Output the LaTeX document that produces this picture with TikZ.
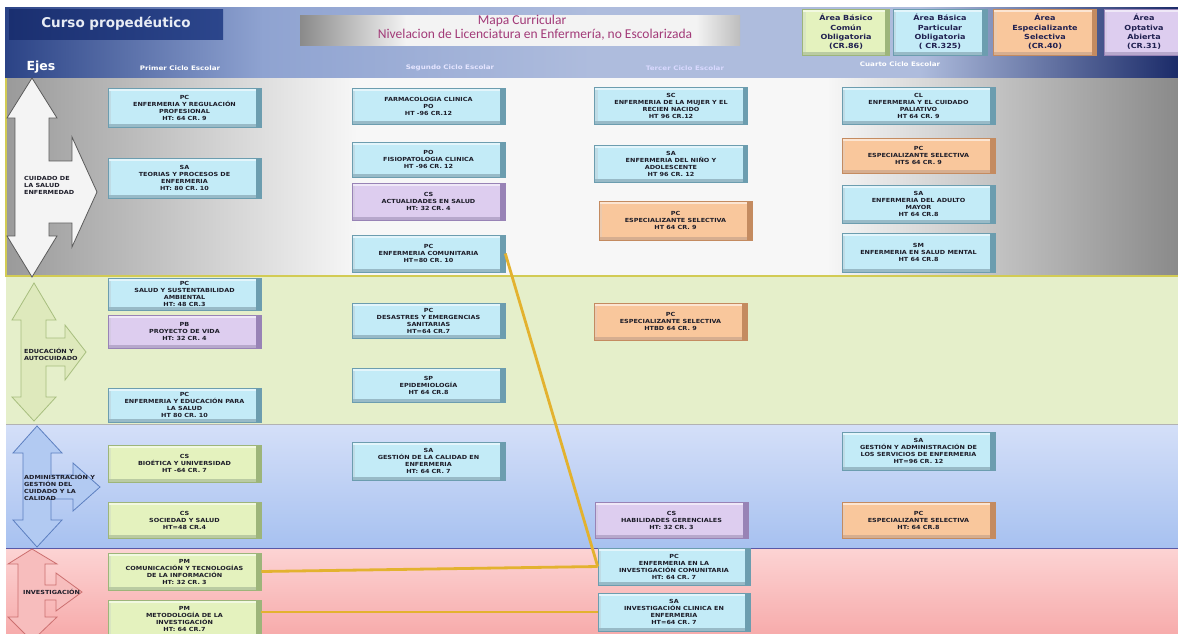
\documentclass[tikz,border=0pt]{standalone}
\usepackage{fontspec}
\newfontfamily\boxfnt{DejaVu Sans}[FakeStretch=1.15]
\newfontfamily\hdfnt{DejaVu Sans}
\newfontfamily\titlefnt{Carlito}
\definecolor{hdA}{HTML}{2B4386}
\definecolor{hdB}{HTML}{8FA3D1}
\definecolor{hdC}{HTML}{AEBCDD}
\definecolor{hdD}{HTML}{1B2B69}
\definecolor{gL}{HTML}{9A9A9A}
\definecolor{gR}{HTML}{8A8A8A}
\definecolor{gW}{HTML}{F7F7F7}
\definecolor{tA}{HTML}{8A8A8A}
\definecolor{tB}{HTML}{F3F3F3}
\definecolor{tC}{HTML}{BDBDBD}
\pgfdeclarehorizontalshading{hdshade}{100bp}{color(0bp)=(hdA); color(25bp)=(hdA); color(36bp)=(hdB); color(50bp)=(hdC); color(64bp)=(hdC); color(75bp)=(hdD); color(100bp)=(hdD)}
\pgfdeclarehorizontalshading{bandshade}{100bp}{color(0bp)=(gL); color(25bp)=(gL); color(40bp)=(gW); color(60bp)=(gW); color(75bp)=(gR); color(100bp)=(gR)}
\pgfdeclarehorizontalshading{titleshade}{100bp}{color(0bp)=(tA); color(25bp)=(tA); color(37bp)=(tB); color(70bp)=(tB); color(75bp)=(tC); color(100bp)=(tC)}
\definecolor{cyF}{HTML}{C3EBF7}
\definecolor{cyE}{HTML}{6C9DAF}
\definecolor{lvF}{HTML}{DDCDEF}
\definecolor{lvE}{HTML}{9883B6}
\definecolor{orF}{HTML}{F9C79C}
\definecolor{orE}{HTML}{C48B60}
\definecolor{grF}{HTML}{E4F2BE}
\definecolor{grE}{HTML}{9DB57A}
\definecolor{boxtxt}{HTML}{1C1C28}
\definecolor{b2F}{HTML}{E5EFCA}
\definecolor{b3T}{HTML}{D4DFF8}
\definecolor{b3B}{HTML}{A7C1F0}
\definecolor{b4T}{HTML}{FCD3D3}
\definecolor{b4B}{HTML}{F7ACAC}
\definecolor{a1F}{HTML}{F4F4F4}
\definecolor{a1E}{HTML}{5A5A5A}
\definecolor{a2F}{HTML}{DEE9BC}
\definecolor{a2E}{HTML}{A7BE7E}
\definecolor{a3F}{HTML}{B2CAF2}
\definecolor{a3E}{HTML}{5C7FC0}
\definecolor{a4F}{HTML}{F7BDBD}
\definecolor{a4E}{HTML}{CC7070}
\definecolor{goldline}{HTML}{E3B22F}
\definecolor{titlecol}{HTML}{A23A78}
\definecolor{legtxt}{HTML}{202050}
\definecolor{cursoL}{HTML}{1A2F70}
\definecolor{cursoR}{HTML}{2C468C}
\definecolor{cursoT}{HTML}{E8ECF4}
\begin{document}
\begin{tikzpicture}[x=1pt,y=-1pt,
  cbox/.style={rectangle, inner sep=0pt, minimum width=153pt, align=center,
    font=\boxfnt\fontsize{5.6}{7}\selectfont\bfseries, text=boxtxt},
  bev/.style 2 args={fill=#1, draw=#2, line width=0.6pt, path picture={
    \fill[#2] ([xshift=-5pt]path picture bounding box.north east) rectangle (path picture bounding box.south east);
    \fill[#2!70!white] (path picture bounding box.south west) rectangle ([yshift=3.5pt,xshift=-5pt]path picture bounding box.south east);
    \fill[white,opacity=0.55] (path picture bounding box.north west) rectangle ([yshift=-3pt,xshift=-5pt]path picture bounding box.north east);
    \fill[#2!45!white,opacity=0.6] ([yshift=-3pt]path picture bounding box.north west) rectangle ([xshift=3pt,yshift=3.5pt]path picture bounding box.south west);
  }},
  cy/.style={cbox, bev={cyF}{cyE}},
  lv/.style={cbox, bev={lvF}{lvE}},
  og/.style={cbox, bev={orF}{orE}},
  gr/.style={cbox, bev={grF}{grE}},
  legend/.style={rectangle, inner sep=0pt, align=center, minimum height=46pt,
    font=\boxfnt\fontsize{7}{9.4}\selectfont\bfseries, text=legtxt},
  axlabel/.style={anchor=west, align=left, inner sep=0pt,
    font=\boxfnt\fontsize{5.6}{7}\selectfont\bfseries, text=boxtxt},
  colhead/.style={inner sep=0pt, font=\boxfnt\fontsize{6.2}{7}\selectfont\bfseries},
  gold/.style={draw=goldline, line width=2.8pt},
  axarrow/.style 2 args={fill=#1, draw=#2, line width=0.8pt, line join=miter}
]
\useasboundingbox (0,0) rectangle (1178,633);
\fill[white] (0,0) rectangle (1178,633);

% ---------- header ----------
\shade[shading=hdshade] (5,7) rectangle (1178,78);
\node[rectangle, inner sep=0pt, minimum width=214pt, minimum height=30pt,
  left color=cursoL, right color=cursoR,
  text=cursoT, font=\hdfnt\bfseries\fontsize{13.5}{15}\selectfont]
  (curso) at (116,24) {Curso propedéutico};
\node[rectangle, inner sep=0pt, minimum width=440pt, minimum height=30pt, shade, shading=titleshade]
  (tbox) at (520,30) {};
\node[inner sep=0pt, text=titlecol, font=\titlefnt\fontsize{13.5}{15}\selectfont] (t1) at (522,21) {Mapa Curricular};
\node[inner sep=0pt, text=titlecol, font=\titlefnt\fontsize{13.5}{15}\selectfont] (t2) at (535,35) {Nivelacion de Licenciatura en Enfermería, no Escolarizada};

\node[legend, minimum width=87pt, bev={grF}{grE}] (lg1) at (846,32) {Área Básico\\Común\\Obligatoria\\(CR.86)};
\node[legend, minimum width=94pt, bev={cyF}{cyE}] (lg2) at (940,32) {Área Básica\\Particular\\Obligatoria\\( CR.325)};
\node[legend, minimum width=103pt, bev={orF}{orE}] (lg3) at (1045,32) {Área\\Especializante\\Selectiva\\(CR.40)};
\node[legend, minimum width=80pt, bev={lvF}{lvE}] (lg4) at (1144,32) {Área\\Optativa\\Abierta\\(CR.31)};

\node[inner sep=0pt, text=white, font=\hdfnt\bfseries\fontsize{12.5}{14}\selectfont] (ejes) at (41,67) {Ejes};
\node[colhead, text=white] (h1) at (180,68) {Primer  Ciclo Escolar};
\node[colhead, text=white!90!blue] (h2) at (450,68) {Segundo Ciclo Escolar};
\node[colhead, text=white!85!blue] (h3) at (685,68) {Tercer  Ciclo Escolar};
\node[colhead, text=white] (h4) at (900,64) {Cuarto Ciclo  Escolar};

% ---------- bands ----------
\shade[shading=bandshade] (6,78) rectangle (1178,276);
\draw[draw=yellow!60!gray, line width=1.2pt] (6,78) -- (6,276) -- (1178,276);
\fill[b2F] (6,277) rectangle (1178,424);
\draw[draw=gray!60, line width=1pt] (6,424) -- (1178,424);
\shade[top color=b3T, bottom color=b3B] (6,425) rectangle (1178,548);
\draw[draw=blue!30!gray, line width=1pt] (6,548) -- (1178,548);
\shade[top color=b4T, bottom color=b4B] (6,549) rectangle (1178,633);

% ---------- axis arrows ----------
\draw[axarrow={a1F}{a1E}] (32,78) -- (57,118) -- (49,118) -- (49,161) -- (72,161) -- (72,137) -- (97,192) -- (72,247) -- (72,223) -- (49,223) -- (49,236) -- (57,236) -- (32,277) -- (7,236) -- (15,236) -- (15,118) -- (7,118) -- cycle;
\draw[axarrow={a2F}{a2E}] (34,283) -- (56,320) -- (46,320) -- (46,338) -- (65,338) -- (65,325) -- (86,352) -- (65,380) -- (65,366) -- (46,366) -- (46,397) -- (56,397) -- (34,421) -- (12,397) -- (21,397) -- (21,320) -- (12,320) -- cycle;
\draw[axarrow={a3F}{a3E}] (37,426) -- (62,453) -- (51,453) -- (51,475) -- (73,475) -- (73,463) -- (100,487) -- (73,511) -- (73,499) -- (51,499) -- (51,520) -- (62,520) -- (37,547) -- (13,520) -- (23,520) -- (23,453) -- (13,453) -- cycle;
\draw[axarrow={a4F}{a4E}] (32,549) -- (57,564) -- (45,564) -- (45,585) -- (56,585) -- (56,573) -- (82,592) -- (56,611) -- (56,600) -- (45,600) -- (45,617) -- (57,617) -- (32,641) -- (8,617) -- (18,617) -- (18,564) -- (8,564) -- cycle;

\node[axlabel] (ax1) at (24,185) {CUIDADO DE\\LA SALUD\\ENFERMEDAD};
\node[axlabel] (ax2) at (24,354) {EDUCACIÓN Y\\AUTOCUIDADO};
\node[axlabel] (ax3) at (24,487) {ADMINISTRACIÓN Y\\GESTIÓN DEL\\CUIDADO Y LA\\CALIDAD};
\node[axlabel] (ax4) at (23,592) {INVESTIGACIÓN};

% ---------- column 1 ----------
\node[cy, minimum height=39pt] (c1a) at (184.5,107.5) {PC\\ENFERMERIA Y REGULACIÓN\\PROFESIONAL\\HT: 64 CR. 9};
\node[cy, minimum height=40pt] (c1b) at (184.5,178) {SA\\TEORIAS Y PROCESOS DE\\ENFERMERIA\\HT: 80 CR. 10};
\node[cy, minimum height=32pt] (c1c) at (184.5,294) {PC\\SALUD Y SUSTENTABILIDAD\\AMBIENTAL\\HT: 48 CR.3};
\node[lv, minimum height=33pt] (c1d) at (184.5,331.5) {PB\\PROYECTO DE VIDA\\HT: 32 CR. 4};
\node[cy, minimum height=34pt] (c1e) at (184.5,405) {PC\\ENFERMERIA Y EDUCACIÓN PARA\\LA SALUD\\HT 80 CR. 10};
\node[gr, minimum height=37pt] (c1f) at (184.5,463.5) {CS\\BIOÉTICA Y UNIVERSIDAD\\HT -64 CR. 7};
\node[gr, minimum height=36pt] (c1g) at (184.5,520) {CS\\SOCIEDAD Y SALUD\\HT=48 CR.4};
\node[gr, minimum height=37pt] (c1h) at (184.5,571.5) {PM\\COMUNICACIÓN Y TECNOLOGÍAS\\DE LA INFORMACIÓN\\HT: 32 CR. 3};
\node[gr, minimum height=38pt] (c1i) at (184.5,619) {PM\\METODOLOGÍA DE LA\\INVESTIGACIÓN\\HT: 64 CR.7};

% ---------- column 2 ----------
\node[cy, minimum height=36pt] (c2a) at (428.5,106) {FARMACOLOGIA CLINICA\\PO\\HT -96 CR.12};
\node[cy, minimum height=35pt] (c2b) at (428.5,159.5) {PO\\FISIOPATOLOGIA CLINICA\\HT -96 CR. 12};
\node[lv, minimum height=37pt] (c2c) at (428.5,201.5) {CS\\ACTUALIDADES EN SALUD\\HT: 32 CR. 4};
\node[cy, minimum height=37pt] (c2d) at (428.5,253.5) {PC\\ENFERMERIA COMUNITARIA\\HT=80 CR. 10};
\node[cy, minimum height=35pt] (c2e) at (428.5,320.5) {PC\\DESASTRES Y EMERGENCIAS\\SANITARIAS\\HT=64 CR.7};
\node[cy, minimum height=34pt] (c2f) at (428.5,385) {SP\\EPIDEMIOLOGÍA\\HT 64 CR.8};
\node[cy, minimum height=38pt] (c2g) at (428.5,461) {SA\\GESTIÓN DE LA CALIDAD EN\\ENFERMERIA\\HT: 64 CR. 7};

% ---------- column 3 ----------
\node[cy, minimum height=37pt] (c3a) at (671,105.5) {SC\\ENFERMERIA DE LA MUJER Y EL\\RECIEN NACIDO\\HT 96 CR.12};
\node[cy, minimum height=37pt] (c3b) at (671,163.5) {SA\\ENFERMERIA DEL NIÑO Y\\ADOLESCENTE\\HT 96 CR. 12};
\node[og, minimum height=39pt] (c3c) at (675.5,220.5) {PC\\ESPECIALIZANTE SELECTIVA\\HT 64 CR. 9};
\node[og, minimum height=37pt] (c3d) at (670.5,321.5) {PC\\ESPECIALIZANTE SELECTIVA\\HTBD 64 CR. 9};
\node[lv, minimum height=36pt] (c3e) at (671.5,520) {CS\\HABILIDADES GERENCIALES\\HT: 32 CR. 3};
\node[cy, minimum height=37pt, minimum width=152pt] (c3f) at (674,566.5) {PC\\ENFERMERIA EN LA\\INVESTIGACIÓN COMUNITARIA\\HT: 64 CR. 7};
\node[cy, minimum height=38pt, minimum width=152pt] (c3g) at (674,612) {SA\\INVESTIGACIÓN CLINICA EN\\ENFERMERIA\\HT=64 CR. 7};

% ---------- column 4 ----------
\node[cy, minimum height=37pt] (c4a) at (918.5,105.5) {CL\\ENFERMERIA Y EL CUIDADO\\PALIATIVO\\HT 64 CR. 9};
\node[og, minimum height=35pt] (c4b) at (918.5,155.5) {PC\\ESPECIALIZANTE SELECTIVA\\HTS 64 CR. 9};
\node[cy, minimum height=38pt] (c4c) at (918.5,204) {SA\\ENFERMERIA DEL ADULTO\\MAYOR\\HT 64 CR.8};
\node[cy, minimum height=39pt] (c4d) at (918.5,252.5) {SM\\ENFERMERIA EN SALUD MENTAL\\HT 64 CR.8};
\node[cy, minimum height=38pt] (c4e) at (918.5,451) {SA\\GESTIÓN  Y ADMINISTRACIÓN DE\\LOS SERVICIOS DE ENFERMERIA\\HT=96 CR. 12};
\node[og, minimum height=36pt] (c4f) at (918.5,520) {PC\\ESPECIALIZANTE SELECTIVA\\HT: 64 CR.8};

% ---------- connectors ----------
\draw[gold] (c2d.east) -- (c3f.west);
\draw[gold] (c1h.east) -- (c3f.west);
\draw[gold] (c1i.east |- c3g.west) -- (c3g.west);
\end{tikzpicture}
\end{document}
